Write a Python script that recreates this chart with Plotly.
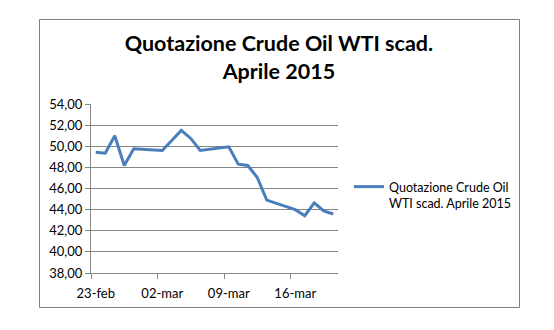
import plotly.graph_objects as go

dates = ["2015-02-23", "2015-02-24", "2015-02-25", "2015-02-26", "2015-02-27",
         "2015-03-02", "2015-03-03", "2015-03-04", "2015-03-05", "2015-03-06",
         "2015-03-09", "2015-03-10", "2015-03-11", "2015-03-12", "2015-03-13",
         "2015-03-16", "2015-03-17", "2015-03-18", "2015-03-19", "2015-03-20"]
prices = [49.44, 49.35, 51.00, 48.18, 49.76,
          49.60, 50.55, 51.50, 50.74, 49.60,
          49.95, 48.30, 48.18, 47.04, 44.90,
          44.00, 43.42, 44.63, 43.87, 43.59]
series_name = "Quotazione Crude Oil<br>WTI scad. Aprile 2015"
x_tick_vals = ["2015-02-23", "2015-03-02", "2015-03-09", "2015-03-16"]
x_tick_text = ["23-feb", "02-mar", "09-mar", "16-mar"]
x_minor_ticks = ["2015-02-22 12:00", "2015-03-01 12:00", "2015-03-08 12:00", "2015-03-15 12:00"]
y_ticks = [38, 40, 42, 44, 46, 48, 50, 52, 54]

W, H = 554, 330
PL, PR, PT, PB = 91, 338, 104, 273
GRAY = "#868686"
FONT = "Lato"

fig = go.Figure()
fig.add_trace(go.Scatter(x=dates, y=prices, mode="lines", name=series_name,
                         line=dict(color="#4A7EBB", width=3)))

pw, ph = PR - PL, PB - PT
def px(x):
    return (x - PL) / pw
def py(y):
    return (PB - y) / ph

fig.update_layout(
    width=W, height=H,
    margin=dict(l=PL, r=W - PR, t=PT, b=H - PB, pad=0),
    paper_bgcolor="white", plot_bgcolor="white",
    separators=",.",
    font=dict(family=FONT, size=13, color="#000000"),
    title=dict(text="Quotazione Crude Oil WTI scad.<br>Aprile 2015",
               x=0.5035, xanchor="center", y=1 - 51 / H, yanchor="top",
               font=dict(family=FONT, size=21.5, color="#000000", weight="bold")),
    showlegend=True,
    legend=dict(x=px(349), y=py(195), xanchor="left", yanchor="middle",
                valign="top",
                font=dict(family=FONT, size=12.5), bgcolor="rgba(0,0,0,0)",
                borderwidth=0, tracegroupgap=0),
    xaxis=dict(type="date", range=["2015-02-22 12:00", "2015-03-20 12:00"],
               tickmode="array", tickvals=x_tick_vals, ticktext=x_tick_text,
               ticks="outside", ticklen=8, tickcolor="rgba(0,0,0,0)",
               showgrid=False, showline=True, linecolor=GRAY, linewidth=1,
               zeroline=False, tickfont=dict(size=13),
               minor=dict(tickmode="array", tickvals=x_minor_ticks, ticks="outside",
                          ticklen=5, tickcolor=GRAY, tickwidth=1, showgrid=False)),
    yaxis=dict(range=[38, 54], tickmode="array", tickvals=y_ticks, tickformat=".2f",
               ticks="outside", ticklen=5, tickcolor=GRAY, tickwidth=1,
               showgrid=True, gridcolor=GRAY, gridwidth=1,
               showline=True, linecolor=GRAY, linewidth=1, zeroline=False,
               tickfont=dict(size=13)),
    shapes=[dict(type="rect", xref="paper", yref="paper",
                 x0=px(39.5), x1=px(519.5), y0=py(307.5), y1=py(19.5),
                 line=dict(color="#7F7F7F", width=1), fillcolor="rgba(0,0,0,0)",
                 layer="below")],
)

fig.write_html("out.html")
